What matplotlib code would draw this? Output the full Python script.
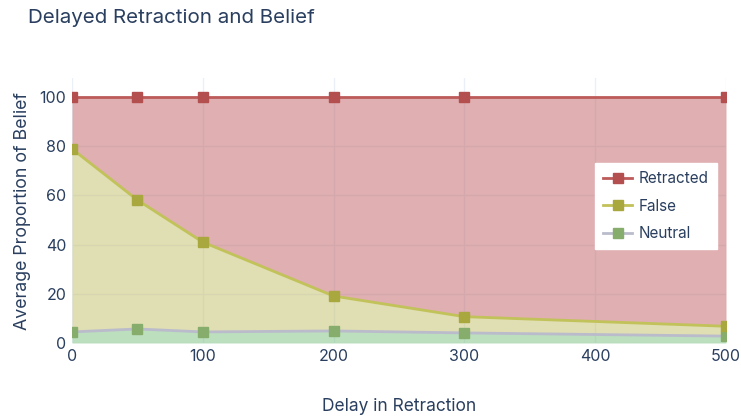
import matplotlib
matplotlib.use("Agg")
import matplotlib.pyplot as plt
import numpy as np
from matplotlib.lines import Line2D

plt.rcParams['font.family'] = ['Inter', 'DejaVu Sans']

delays = [0, 50, 100, 200, 300, 500]
neutral = [4.5, 5.7, 4.5, 4.9, 4.1, 2.8]
false_ = [74.4, 52.4, 36.5, 14.2, 6.6, 4.0]
retracted = [21.1, 41.9, 59.0, 80.9, 89.3, 93.2]
series_names = ["Neutral", "False", "Retracted"]
x_ticks = [0, 100, 200, 300, 400, 500]
y_ticks = [0, 20, 40, 60, 80, 100]

txt = '#2a3f5f'
fig = plt.figure(figsize=(7.41, 4.17), dpi=100)
ax = fig.add_axes([72/741, 1-343/417, (726-72)/741, (343-78)/417])

styles = {
    "Neutral": dict(fill=(123/255, 193/255, 127/255), line='#babccb', mk='#86ad6c'),
    "False": dict(fill=(195/255, 191/255, 105/255), line='#c2c25a', mk='#a9a83f'),
    "Retracted": dict(fill=(193/255, 97/255, 101/255), line='#bd5a5a', mk='#b34f4f'),
}

x = np.array(delays, dtype=float)
base = np.zeros_like(x)
handles = []
for name, vals in zip(series_names, [neutral, false_, retracted]):
    top = base + np.array(vals)
    st = styles[name]
    ax.fill_between(x, base, top, color=st['fill'], alpha=0.5, lw=0, zorder=2)
    ax.plot(x, top, color=st['line'], lw=2, zorder=3)
    ax.plot(x, top, ls='none', marker='s', ms=7.5, color=st['mk'], zorder=4, clip_on=True)
    handles.append(Line2D([], [], color=st['line'], lw=2, marker='s', ms=7.5,
                          markerfacecolor=st['mk'], markeredgecolor=st['mk']))
    base = top

ax.set_xlim(0, 500)
ax.set_ylim(0, 107.7)
ax.set_xticks(x_ticks)
ax.set_yticks(y_ticks)
ax.grid(True, color='#ebf0f8', lw=1, zorder=0)
ax.set_axisbelow(True)
for s in ax.spines.values():
    s.set_visible(False)
ax.tick_params(length=0, labelsize=11.5, colors=txt, pad=4)

ax.set_xlabel("Delay in Retraction", fontsize=12.5, color=txt, labelpad=25)
ax.set_ylabel("Average Proportion of Belief", fontsize=12.8, color=txt, labelpad=6)
fig.text(28/741, 1-18/417, "Delayed Retraction and Belief", fontsize=14.8, color=txt,
         va='center', ha='left')

leg = ax.legend(handles[::-1], series_names[::-1], loc='upper left',
                bbox_to_anchor=((595-72)/654, (343-163)/265), frameon=True,
                fancybox=False, framealpha=1, edgecolor='white', fontsize=11,
                labelcolor=txt, handlelength=1.9, handletextpad=0.4,
                borderpad=0.55, labelspacing=0.8, borderaxespad=0)
leg.set_zorder(10)

fig.savefig("out.png", dpi=100)
